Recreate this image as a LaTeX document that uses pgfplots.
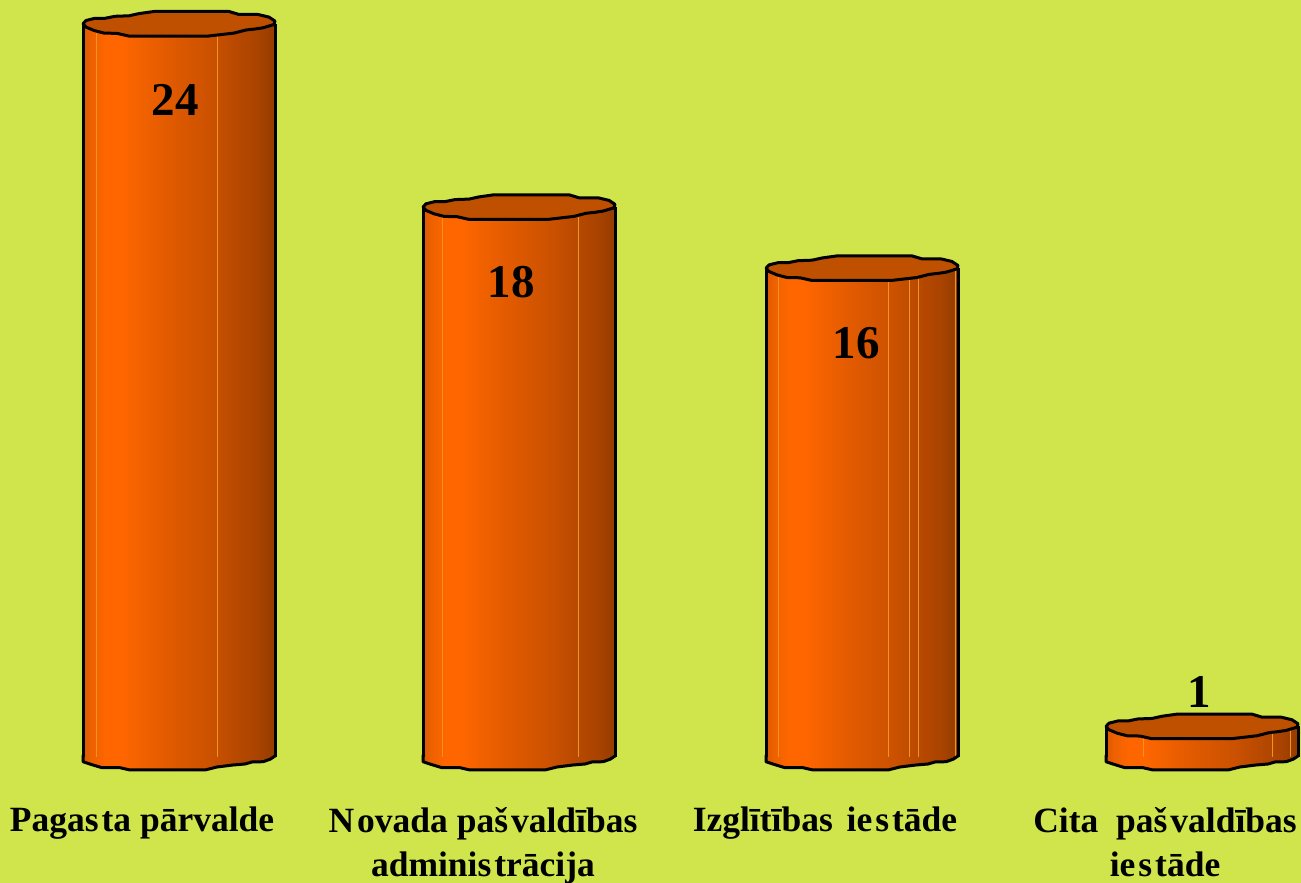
\documentclass[border=0pt]{standalone}
\usepackage{pgfplots}
\pgfplotsset{compat=1.18}
\usepackage{fontspec}
\setmainfont{Liberation Serif}
\definecolor{bg}{RGB}{207,229,75}
\definecolor{captop}{RGB}{191,80,0}
\definecolor{paleline}{RGB}{240,150,30}
% stops run from 25bp (left edge of the bar) to 75bp (right edge)
\pgfdeclarehorizontalshading{cyl}{100bp}{
 rgb(0bp)=(0.86,0.35,0);
 rgb(25bp)=(0.86,0.35,0);
 rgb(27bp)=(0.93,0.38,0);
 rgb(31bp)=(1,0.40,0);
 rgb(35bp)=(1,0.40,0);
 rgb(42bp)=(0.93,0.375,0);
 rgb(50bp)=(0.86,0.345,0);
 rgb(58bp)=(0.80,0.32,0);
 rgb(64bp)=(0.73,0.29,0);
 rgb(70bp)=(0.67,0.265,0);
 rgb(75bp)=(0.58,0.235,0);
 rgb(100bp)=(0.58,0.235,0)}
\newcommand{\toppath}{(-96,0) -- (-93,3.3) -- (-84,5.5) -- (-74,5.5) -- (-64,7.5) -- (-50,8) -- (-40,10.2) -- (-25,12.3) -- (50,12.3) -- (60,9.3) -- (79,9.3) -- (90,6.7) -- (96,2.7) -- (95,-0.7) -- (84,-4) -- (76,-5.2) -- (67,-6.2) -- (55,-9.3) -- (29,-12.3) -- (-50,-12.3) -- (-62,-9.6) -- (-75,-9.3) -- (-85,-6.7) -- (-93,-3.3) -- cycle}
\newcommand{\botpath}{(-96,-4.7) -- (-86,-8) -- (-77,-10.7) -- (-59,-10.7) -- (-49,-13) -- (26,-13) -- (38,-10) -- (54,-8) -- (66,-7) -- (73,-5) -- (84,-4.7) -- (91,-2.3) -- (96,1)}
\pgfdeclareplotmark{cyltop}{%
 \draw[x=1pt,y=1pt,line width=3pt,line join=round,draw=black,fill=captop] \toppath;}
\pgfdeclareplotmark{cylbot}{%
 \path[x=1pt,y=1pt,draw=none,shading=cyl] (-96,0) -- \botpath -- (96,0) -- cycle;
 \draw[x=1pt,y=1pt,line width=3pt,line join=round,draw=black,fill=none] (-96,2) -- \botpath;}
\newcommand{\g}{\kern3pt}
\begin{document}
\begin{tikzpicture}
\path[fill=bg,use as bounding box] (0,0) rectangle (1301pt,883pt);
\begin{axis}[
 at={(0pt,126pt)},anchor=south west,
 scale only axis,width=1301pt,height=757pt,
 xmin=0,xmax=1301,ymin=0,ymax=24.779,
 clip=false,
 axis line style={draw=none},
 ytick=\empty,
 xtick={142,483,825,1165},
 xticklabels={{Pagas\g ta pārvalde},{N\g ovada paš\g valdības\\[-1pt]adminis\g trācija},{Izglītības\kern5pt\ ie\g s\g tāde},{Cita\ \ paš\g valdības\\[-1pt]ie\g s\g tāde}},
 major tick length=0pt,
 xticklabel style={font=\fontsize{35.5}{45}\selectfont\bfseries,align=center,anchor=north,yshift=-50pt,text=black,inner sep=0pt},
]
% cylinder bodies
\addplot[ybar,bar width=192pt,bar shift=0pt,draw=none,shading=cyl] coordinates {(179,24)};
\addplot[ybar,bar width=192pt,bar shift=0pt,draw=none,shading=cyl] coordinates {(519,18)};
\addplot[ybar,bar width=192pt,bar shift=0pt,draw=none,shading=cyl] coordinates {(862,16)};
\addplot[ybar,bar width=192pt,bar shift=0pt,draw=none,shading=cyl] coordinates {(1202,1)};
% bottom rims
\addplot[only marks,mark=cylbot] coordinates {(179,0)(519,0)(862,0)(1202,0)};
% pale seams
\addplot[ycomb,no markers,draw=paleline,line width=0.8pt] coordinates {(96,24)(217,24)(442,18)(578,18)(778,16)(888,16)(909,16)(918,16)(955,16)(1143,1)(1272,1)(1290,1)};
% side edges
\addplot[ycomb,no markers,draw=black,line width=3pt] coordinates {(83,24)(275,24)(423,18)(615,18)(766,16)(958,16)(1106,1)(1298,1)};
% top caps
\addplot[only marks,mark=cyltop] coordinates {(179,24)(519,18)(862,16)(1202,1)};
\node[font=\fontsize{47}{47}\selectfont\bfseries] at (axis cs:175,21.5) {24};
\node[font=\fontsize{47}{47}\selectfont\bfseries] at (axis cs:511,15.55) {18};
\node[font=\fontsize{47}{47}\selectfont\bfseries] at (axis cs:856,13.55) {16};
\node[font=\fontsize{47}{47}\selectfont\bfseries] at (axis cs:1199,2.13) {1};
\end{axis}
\end{tikzpicture}
\end{document}
